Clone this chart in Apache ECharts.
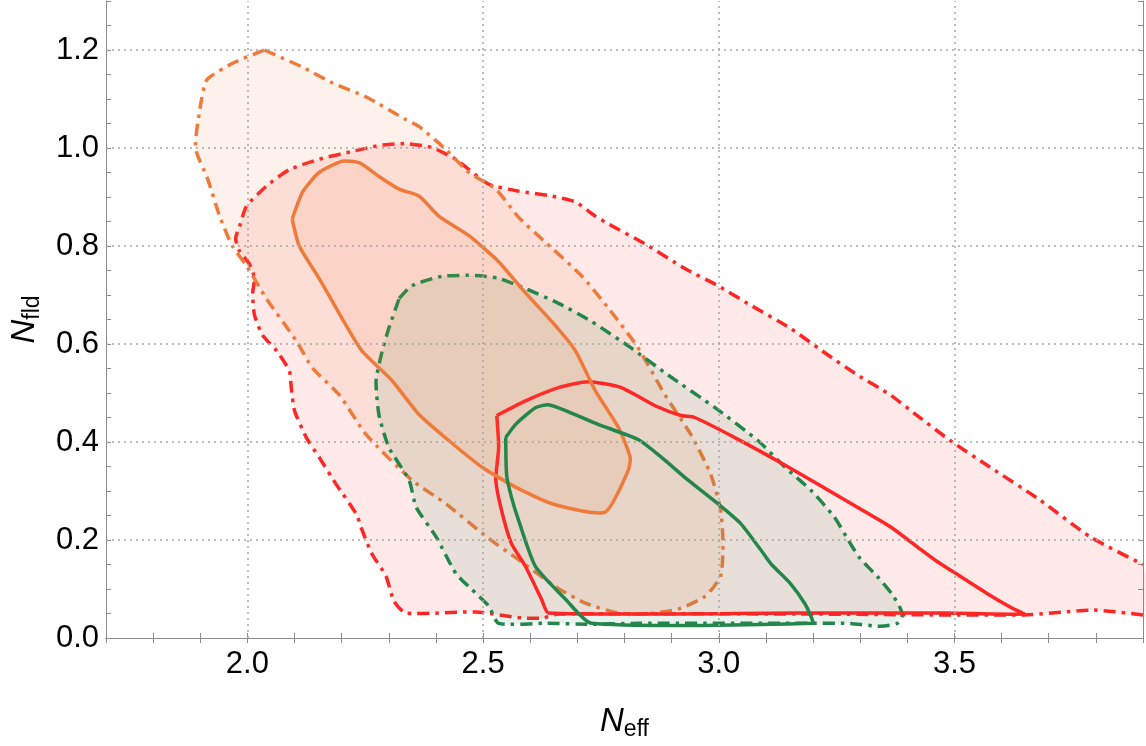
<!DOCTYPE html>
<html>
<head>
<meta charset="UTF-8">
<title>Neff - Nfld contours</title>
<script src="https://cdn.jsdelivr.net/npm/echarts@6/dist/echarts.min.js"></script>
<style>html,body{margin:0;padding:0;background:#fff}</style>
</head>
<body>
<div id="chart" style="width:1146px;height:746px;"></div>
<script>
// tick labels
var xLabels = ['2.0', '2.5', '3.0', '3.5'];
var yLabels = ['0.0', '0.2', '0.4', '0.6', '0.8', '1.0', '1.2'];
var xGrid = [2.0, 2.5, 3.0, 3.5];
var yGrid = [0.2, 0.4, 0.6, 0.8, 1.0, 1.2];

// 95% regions (dash-dot). red95 runs off the right edge, so it is an open path
var red95 = [[3.9,0.047],[3.795,0.057],[3.647,0.047],[3.167,0.049],[2.660,0.049],[2.628,0.041],[2.582,0.041],[2.484,0.053],[2.336,0.051],[2.311,0.075],[2.294,0.126],[2.264,0.172],[2.243,0.221],[2.231,0.253],[2.188,0.314],[2.152,0.369],[2.125,0.409],[2.100,0.464],[2.093,0.511],[2.089,0.545],[2.062,0.586],[2.032,0.618],[2.015,0.659],[2.011,0.703],[2.015,0.734],[2.004,0.764],[1.983,0.790],[1.975,0.815],[1.983,0.839],[1.998,0.881],[2.040,0.922],[2.089,0.956],[2.152,0.977],[2.222,0.993],[2.279,1.005],[2.336,1.009],[2.391,1.001],[2.442,0.977],[2.470,0.956],[2.512,0.926],[2.575,0.912],[2.645,0.902],[2.696,0.890],[2.738,0.861],[2.766,0.845],[2.844,0.804],[2.928,0.754],[2.998,0.719],[3.068,0.679],[3.152,0.632],[3.231,0.578],[3.294,0.537],[3.364,0.496],[3.421,0.454],[3.491,0.403],[3.575,0.349],[3.681,0.282],[3.787,0.207],[3.9,0.150]];
var orange95 = [[2.036,1.200],[2.117,1.165],[2.180,1.133],[2.252,1.104],[2.336,1.058],[2.364,1.044],[2.421,0.997],[2.470,0.950],[2.527,0.916],[2.575,0.859],[2.632,0.808],[2.708,0.740],[2.766,0.673],[2.829,0.592],[2.886,0.496],[2.941,0.415],[2.983,0.334],[3.004,0.261],[3.009,0.193],[3.004,0.126],[2.971,0.085],[2.914,0.059],[2.844,0.049],[2.787,0.051],[2.717,0.071],[2.653,0.105],[2.575,0.160],[2.512,0.203],[2.421,0.274],[2.349,0.322],[2.252,0.415],[2.195,0.496],[2.138,0.551],[2.104,0.606],[2.040,0.693],[1.998,0.760],[1.968,0.800],[1.941,0.861],[1.916,0.936],[1.890,0.999],[1.899,1.078],[1.914,1.139],[1.973,1.175],[2.036,1.200]];
var green95 = [[2.322,0.693],[2.349,0.719],[2.412,0.738],[2.484,0.740],[2.533,0.734],[2.590,0.713],[2.660,0.683],[2.730,0.646],[2.814,0.592],[2.892,0.537],[2.992,0.470],[3.083,0.403],[3.140,0.349],[3.195,0.302],[3.245,0.247],[3.279,0.193],[3.300,0.162],[3.336,0.126],[3.368,0.089],[3.385,0.061],[3.389,0.045],[3.379,0.030],[3.343,0.024],[3.273,0.030],[3.199,0.030],[2.829,0.030],[2.730,0.028],[2.632,0.030],[2.533,0.030],[2.512,0.065],[2.476,0.099],[2.442,0.132],[2.400,0.207],[2.358,0.267],[2.343,0.322],[2.300,0.389],[2.279,0.456],[2.273,0.525],[2.286,0.586],[2.300,0.632],[2.322,0.693]];

// 68% regions (solid)
var red68 = [[2.529,0.454],[2.590,0.484],[2.660,0.511],[2.723,0.523],[2.793,0.511],[2.865,0.474],[2.920,0.454],[2.949,0.450],[3.034,0.409],[3.140,0.353],[3.294,0.267],[3.364,0.227],[3.421,0.186],[3.463,0.156],[3.499,0.134],[3.569,0.091],[3.626,0.059],[3.647,0.049],[3.484,0.051],[3.167,0.051],[2.639,0.051],[2.624,0.079],[2.590,0.146],[2.560,0.193],[2.539,0.261],[2.527,0.322],[2.533,0.389],[2.529,0.454]];
var orange68 = [[2.095,0.855],[2.117,0.910],[2.152,0.950],[2.201,0.973],[2.237,0.970],[2.279,0.942],[2.322,0.916],[2.364,0.902],[2.406,0.861],[2.470,0.821],[2.533,0.768],[2.582,0.713],[2.653,0.638],[2.696,0.586],[2.738,0.505],[2.787,0.430],[2.812,0.369],[2.808,0.342],[2.759,0.257],[2.653,0.272],[2.569,0.308],[2.497,0.349],[2.427,0.403],[2.364,0.456],[2.307,0.525],[2.243,0.586],[2.201,0.652],[2.152,0.734],[2.110,0.800],[2.095,0.855]];
var green68 = [[2.548,0.409],[2.569,0.436],[2.611,0.470],[2.639,0.476],[2.675,0.464],[2.744,0.436],[2.829,0.405],[2.878,0.369],[2.935,0.322],[2.998,0.274],[3.047,0.233],[3.089,0.180],[3.110,0.152],[3.152,0.111],[3.182,0.071],[3.195,0.045],[3.199,0.030],[2.730,0.030],[2.675,0.079],[2.611,0.146],[2.575,0.241],[2.560,0.288],[2.550,0.332],[2.548,0.409]];

var RED = '#ff2626', ORANGE = '#ef7b3b', GREEN = '#23874b';
var FONT = 'Liberation Sans, Arial, Helvetica, sans-serif';

// fill polygon + stroked outline (outline may be open where the contour leaves the frame)
function contour(pts, color, fill, dashed) {
    return {
        type: 'custom',
        coordinateSystem: 'cartesian2d',
        data: pts,
        silent: true,
        animation: false,
        renderItem: function (params, api) {
            if (params.dataIndex !== 0) return null;
            var points = pts.map(function (p) { return api.coord(p); });
            var children = [];
            if (fill) {
                children.push({
                    type: 'polygon',
                    shape: { points: points, smooth: 0.2 },
                    style: { fill: fill, stroke: null }
                });
            }
            children.push({
                type: 'polyline',
                shape: { points: points, smooth: 0.2 },
                style: {
                    fill: null,
                    stroke: color,
                    lineWidth: 3.5,
                    lineDash: dashed ? [12, 6, 3.5, 6] : null,
                    lineJoin: 'round'
                }
            });
            return { type: 'group', children: children };
        }
    };
}

var chart = echarts.init(document.getElementById('chart'), null, { renderer: 'canvas' });

var axisCommon = {
    type: 'value',
    axisLine: { show: true, lineStyle: { color: '#8c8c8c', width: 1 } },
    axisTick: { show: true, inside: true, length: 5, lineStyle: { color: '#8c8c8c' } },
    splitLine: { show: false }
};

var titleRich = {
    n: { fontSize: 33, fontStyle: 'italic', fontFamily: FONT, color: '#000', verticalAlign: 'bottom', padding: [0, 0, 3, 0] },
    s: { fontSize: 23, fontFamily: FONT, color: '#000', verticalAlign: 'bottom' }
};

chart.setOption({
    backgroundColor: '#fff',
    animation: false,
    textStyle: { fontFamily: FONT },
    grid: { left: 106, right: 1, top: 1, bottom: 104 },
    xAxis: [
        Object.assign({}, axisCommon, {
            min: 1.7, max: 3.9, interval: 0.1, position: 'bottom',
            axisLabel: {
                color: '#000', fontSize: 31, fontFamily: FONT, margin: 11,
                formatter: function (v) { var s = v.toFixed(1); return xLabels.indexOf(s) >= 0 && Math.abs(v * 2 - Math.round(v * 2)) < 1e-6 ? s : ''; }
            },
            name: '{n|N}{s|eff}',
            nameLocation: 'middle',
            nameGap: 67,
            nameTextStyle: { rich: titleRich }
        }),
        Object.assign({}, axisCommon, {
            min: 1.7, max: 3.9, interval: 0.1, position: 'top',
            axisLabel: { show: false }
        })
    ],
    yAxis: [
        Object.assign({}, axisCommon, {
            min: 0, max: 1.3, interval: 0.05, position: 'left',
            axisLabel: {
                color: '#000', fontSize: 31, fontFamily: FONT, margin: 7,
                formatter: function (v) { var s = v.toFixed(1); return (yLabels.indexOf(s) >= 0 && Math.abs(v * 5 - Math.round(v * 5)) < 1e-6) ? s : ''; }
            },
            name: '{n|N}{s|fld}',
            nameLocation: 'middle',
            nameGap: 62,
            nameRotate: 90,
            nameTextStyle: { rich: titleRich }
        }),
        Object.assign({}, axisCommon, {
            min: 0, max: 1.3, interval: 0.05, position: 'right',
            axisLabel: { show: false }
        })
    ],
    series: [
        {
            type: 'line',
            data: [],
            z: 1,
            silent: true,
            markLine: {
                silent: true,
                symbol: 'none',
                label: { show: false },
                lineStyle: { type: [2, 4], color: '#a6a6a6', width: 1.5 },
                data: xGrid.map(function (v) { return { xAxis: v }; })
                    .concat(yGrid.map(function (v) { return { yAxis: v }; }))
            }
        },
        contour(red95, RED, 'rgba(255,38,38,0.1)', true),
        contour(orange95, ORANGE, 'rgba(239,123,59,0.1)', true),
        contour(green95, GREEN, 'rgba(35,135,75,0.1)', true),
        contour(red68, RED, null, false),
        contour(orange68, ORANGE, 'rgba(239,123,59,0.1)', false),
        contour(green68, GREEN, null, false)
    ]
});
</script>
</body>
</html>
